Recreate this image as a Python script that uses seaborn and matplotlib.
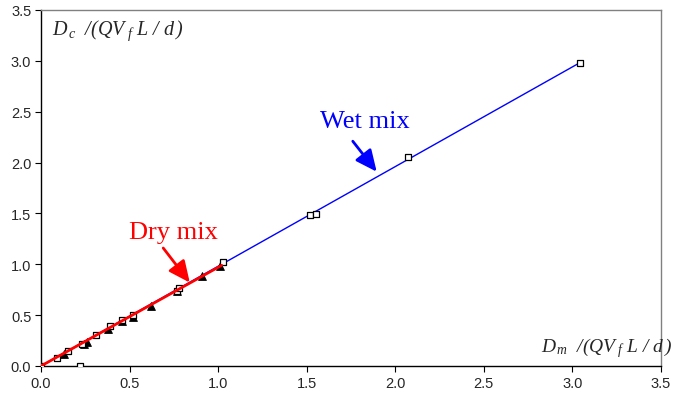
import matplotlib
matplotlib.use("Agg")
import matplotlib.pyplot as plt
import seaborn as sns
import pandas as pd

# Wet mix data (hollow squares)
wet_x = [0.0, 0.09, 0.15, 0.22, 0.23, 0.31, 0.39, 0.46, 0.52, 0.77, 0.78, 1.03, 1.52, 1.55, 2.07, 3.04]
wet_y = [0.0, 0.08, 0.15, 0.0, 0.22, 0.30, 0.39, 0.45, 0.50, 0.74, 0.77, 1.02, 1.48, 1.49, 2.05, 2.98]
# Dry mix data (filled triangles)
dry_x = [0.0, 0.13, 0.24, 0.26, 0.38, 0.46, 0.52, 0.62, 0.77, 0.91, 1.01]
dry_y = [0.0, 0.12, 0.22, 0.24, 0.36, 0.44, 0.48, 0.59, 0.74, 0.88, 0.98]
# Trend lines (end points)
wet_line_x = [0.0, 3.04]
wet_line_y = [0.0, 2.98]
dry_line_x = [0.0, 1.02]
dry_line_y = [0.0, 0.99]

x_ticks = [0.0, 0.5, 1.0, 1.5, 2.0, 2.5, 3.0, 3.5]
y_ticks = [0.0, 0.5, 1.0, 1.5, 2.0, 2.5, 3.0, 3.5]

sns.set_style("white")
plt.rcParams['font.family'] = ['Liberation Sans', 'DejaVu Sans']
plt.rcParams['mathtext.fontset'] = 'custom'
plt.rcParams['mathtext.it'] = 'Liberation Serif:italic'
plt.rcParams['mathtext.rm'] = 'Liberation Serif:italic'

fig = plt.figure(figsize=(6.73, 4.02), dpi=100)
ax = fig.add_axes([41/673, 1-367/402, 620/673, 356/402])

wet_df = pd.DataFrame({"x": wet_x, "y": wet_y})
dry_df = pd.DataFrame({"x": dry_x, "y": dry_y})

sns.lineplot(x=wet_line_x, y=wet_line_y, ax=ax, color="#0000FF", linewidth=1.0, zorder=2)
sns.scatterplot(data=dry_df, x="x", y="y", ax=ax, marker="^", s=32, color="black",
                edgecolor="black", linewidth=0.6, zorder=3)
sns.scatterplot(data=wet_df, x="x", y="y", ax=ax, marker="s", s=24, facecolor="white",
                edgecolor="black", linewidth=0.9, zorder=4)
sns.lineplot(x=dry_line_x, y=dry_line_y, ax=ax, color="#FF0000", linewidth=2.0, zorder=5)

ax.set_xlim(0, 3.5)
ax.set_ylim(0, 3.5)
ax.set_xticks(x_ticks)
ax.set_yticks(y_ticks)
ax.set_xticklabels([f"{t:.1f}" for t in x_ticks], fontsize=10.5)
ax.set_yticklabels([f"{t:.1f}" for t in y_ticks], fontsize=10.5)
ax.tick_params(axis="both", direction="out", length=4, width=0.8, color="black", pad=3,
               bottom=True, left=True)
ax.set_xlabel("")
ax.set_ylabel("")

for side in ["left", "bottom"]:
    ax.spines[side].set_color("black")
    ax.spines[side].set_linewidth(1.0)
for side in ["top", "right"]:
    ax.spines[side].set_color("#808080")
    ax.spines[side].set_linewidth(1.0)

ax.text(0.06, 3.31, r"$D_{\,c}\ \ /(QV_{\ f}\ L\ /\ d\,)$", fontsize=14.5, ha="left", va="center")
ax.text(3.565, 0.19, r"$D_{\,m}\ \ /(QV_{\ f}\ L\ /\ d\,)$", fontsize=14, ha="right", va="center",
        clip_on=False)

ax.text(1.83, 2.41, "Wet mix", color="#0000FF", fontsize=19, family="Liberation Serif",
        ha="center", va="center")
ax.text(0.745, 1.32, "Dry mix", color="#FF0000", fontsize=19, family="Liberation Serif",
        ha="center", va="center")
ax.annotate("", xy=(1.895, 1.91), xytext=(1.76, 2.21),
            arrowprops=dict(arrowstyle="-|>,head_length=1.3,head_width=0.6", color="#0000FF",
                            lw=2, shrinkA=0, shrinkB=0))
ax.annotate("", xy=(0.84, 0.82), xytext=(0.69, 1.16),
            arrowprops=dict(arrowstyle="-|>,head_length=1.3,head_width=0.6", color="#FF0000",
                            lw=2, shrinkA=0, shrinkB=0))

fig.savefig("out.png", dpi=100)
